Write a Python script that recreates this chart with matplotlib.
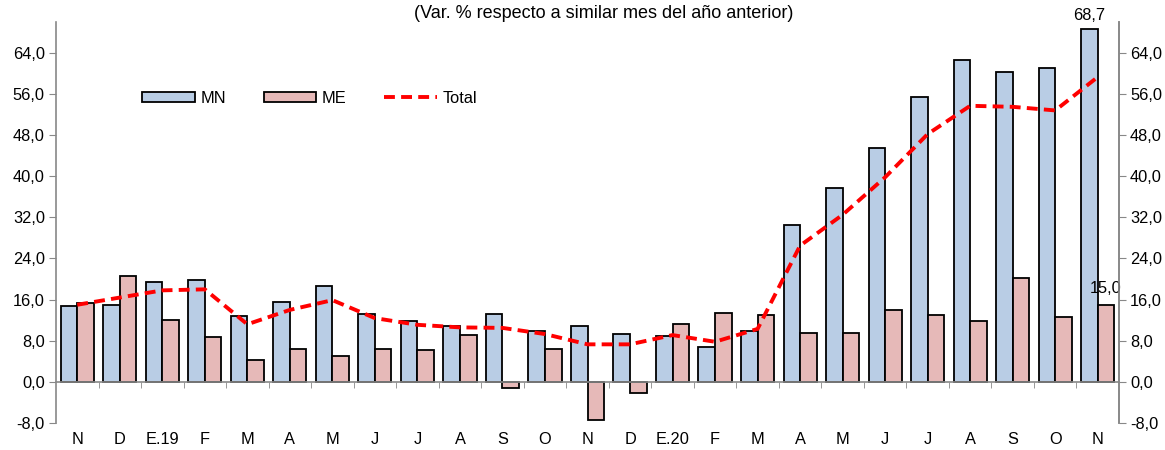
import matplotlib
matplotlib.use("Agg")
import matplotlib.pyplot as plt
import numpy as np

plt.rcParams['font.family'] = ['Liberation Sans', 'DejaVu Sans']

categories = ["N", "D", "E.19", "F", "M", "A", "M", "J", "J", "A", "S", "O",
              "N", "D", "E.20", "F", "M", "A", "M", "J", "J", "A", "S", "O", "N"]
mn = [14.7, 14.9, 19.4, 19.8, 12.9, 15.5, 18.7, 13.2, 11.9, 10.9, 13.2, 9.9,
      10.9, 9.4, 8.9, 6.7, 9.9, 30.6, 37.7, 45.4, 55.5, 62.7, 60.3, 61.0, 68.7]
me = [15.3, 20.6, 12.1, 8.7, 4.2, 6.4, 5.1, 6.3, 6.2, 9.2, -1.2, 6.3,
      -7.4, -2.1, 11.3, 13.3, 13.0, 9.5, 9.5, 13.9, 13.1, 11.8, 20.2, 12.6, 15.0]
total = [15.0, 16.4, 17.8, 18.0, 11.2, 14.0, 15.9, 12.4, 11.1, 10.6, 10.5, 9.3,
         7.3, 7.3, 9.1, 7.8, 10.3, 26.5, 32.5, 39.8, 48.2, 53.7, 53.5, 52.8, 59.3]
yticks = [-8, 0, 8, 16, 24, 32, 40, 48, 56, 64]

FS = 11.8

fig = plt.figure(figsize=(11.65, 4.5), dpi=100)
ax = fig.add_axes([56/1165, 1-423/450, (1119-56)/1165, (423-22)/450])

x = np.arange(len(categories))
w = 0.39
gray = "#888888"
b1 = ax.bar(x - w/2, mn, w, color="#B9CDE5", edgecolor="black", linewidth=1.3, label="MN", zorder=2)
b2 = ax.bar(x + w/2, me, w, color="#E6B9B8", edgecolor="black", linewidth=1.3, label="ME", zorder=2)
l1, = ax.plot(x, total, color="#FF0000", linewidth=2.8, dashes=(2.8, 1.6), label="Total", zorder=3)

ax.set_xlim(-0.5, len(categories) - 0.5)
ax.set_ylim(-8, 70)

fmt = lambda v: f"{v:.1f}".replace(".", ",")
ax.set_yticks(yticks)
ax.set_yticklabels([fmt(v) for v in yticks], fontsize=FS)
ax.tick_params(axis='y', direction='out', length=5, color=gray, pad=3)

ax.spines["top"].set_visible(False)
for s in ["left", "right", "bottom"]:
    ax.spines[s].set_color(gray)
    ax.spines[s].set_linewidth(1.2)
ax.spines["bottom"].set_position(("data", 0))
ax.spines["bottom"].set_zorder(4)

ax.set_xticks(x)
ax.set_xticklabels(categories, fontsize=FS)
ax.set_xticks(x[:-1] + 0.5, minor=True)
ax.tick_params(axis='x', which='major', length=0, pad=36)
ax.tick_params(axis='x', which='minor', length=4, color=gray, direction='out')

ax2 = ax.twinx()
ax2.set_ylim(ax.get_ylim())
ax2.set_yticks(yticks)
ax2.set_yticklabels([fmt(v) for v in yticks], fontsize=FS)
ax2.tick_params(axis='y', direction='out', length=5, color=gray, pad=3)
for s in ["top", "left", "bottom"]:
    ax2.spines[s].set_visible(False)
ax2.spines["right"].set_color(gray)
ax2.spines["right"].set_linewidth(1.2)

ax.annotate(fmt(mn[-1]), (x[-1] - w/2, mn[-1]), xytext=(0, 4), textcoords="offset points",
            ha="center", va="bottom", fontsize=FS)
ax.annotate(fmt(me[-1]), (x[-1] + w/2, me[-1]), xytext=(0, 6), textcoords="offset points",
            ha="center", va="bottom", fontsize=FS)

fig.text(604/1165, 1-14/450, "(Var. % respecto a similar mes del año anterior)",
         ha="center", va="center", fontsize=13)

leg = ax.legend([b1, b2, l1], ["MN", "ME", "Total"], loc="center left",
                bbox_to_anchor=(0.081, 0.81), ncol=3, frameon=False,
                fontsize=FS, handlelength=3.2, handleheight=0.55, columnspacing=2.3,
                handletextpad=0.35, borderpad=0, borderaxespad=0)

fig.savefig("out.png", dpi=100)
